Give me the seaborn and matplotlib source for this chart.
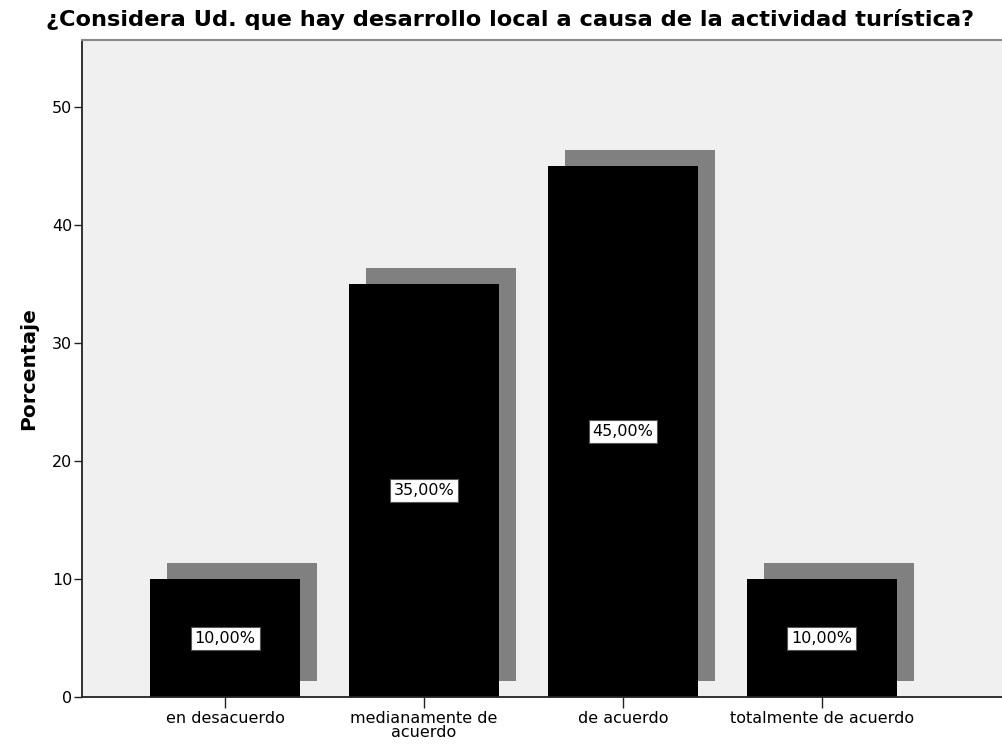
import numpy as np
import pandas as pd
import seaborn as sns
import matplotlib.pyplot as plt
import matplotlib.transforms as mtransforms

categorias = ['en desacuerdo', 'medianamente de\nacuerdo', 'de acuerdo', 'totalmente de acuerdo']
porcentajes = [10.0, 35.0, 45.0, 10.0]
etiquetas = ['10,00%', '35,00%', '45,00%', '10,00%']

df = pd.DataFrame({'categoria': categorias, 'porcentaje': porcentajes})

sns.set_style('white')
plt.rcParams['font.family'] = ['DejaVu Sans']
plt.rcParams['text.color'] = 'black'
plt.rcParams['axes.labelcolor'] = 'black'
plt.rcParams['xtick.color'] = 'black'
plt.rcParams['ytick.color'] = 'black'

fig = plt.figure(figsize=(10.03, 7.49), dpi=100)
ax = fig.add_axes([82 / 1003, 52 / 749, 921 / 1003, 657 / 749])
ax.set_facecolor('#f0f0f0')

# sombra: mismas barras, desplazadas unos pixeles arriba a la derecha
sns.barplot(data=df, x='categoria', y='porcentaje', color='#808080',
            saturation=1, width=0.755, ax=ax)
offset = mtransforms.ScaledTranslation(0.17, 0.16, fig.dpi_scale_trans)
for p in ax.patches:
    p.set_transform(ax.transData + offset)
    p.set_linewidth(0)
n_sombra = len(ax.patches)

sns.barplot(data=df, x='categoria', y='porcentaje', color='black',
            saturation=1, width=0.755, ax=ax)
for p in ax.patches[n_sombra:]:
    p.set_linewidth(0)

for i, (v, t) in enumerate(zip(porcentajes, etiquetas)):
    ax.text(i, v / 2, t, ha='center', va='center', fontsize=11.5, color='black',
            bbox=dict(boxstyle='square,pad=0.25', fc='white', ec='#555555', lw=0.8))

ax.set_xlim(-0.719, 3.91)
ax.set_ylim(0, 55.7)
ax.set_yticks([0, 10, 20, 30, 40, 50])

ax.set_xlabel('')
ax.set_ylabel('Porcentaje', fontsize=14.5, fontweight='bold', labelpad=10)
ax.tick_params(axis='y', length=6, width=1, color='#222222', labelsize=11.5, pad=1, left=True)
ax.tick_params(axis='x', length=8, width=1, color='#222222', labelsize=11.5, pad=2,
               bottom=True, direction='out')
for lbl in ax.get_xticklabels():
    lbl.set_linespacing(0.95)

for s in ['left', 'bottom']:
    ax.spines[s].set_color('#222222')
    ax.spines[s].set_linewidth(1.3)
ax.spines['top'].set_color('#888888')
ax.spines['top'].set_linewidth(1.5)
ax.spines['right'].set_visible(False)

fig.text(510 / 1003, 1 - 20 / 749, '¿Considera Ud. que hay desarrollo local a causa de la actividad turística?',
         ha='center', va='center', fontsize=16.2, fontweight='bold')

fig.savefig('out.png', dpi=100)
